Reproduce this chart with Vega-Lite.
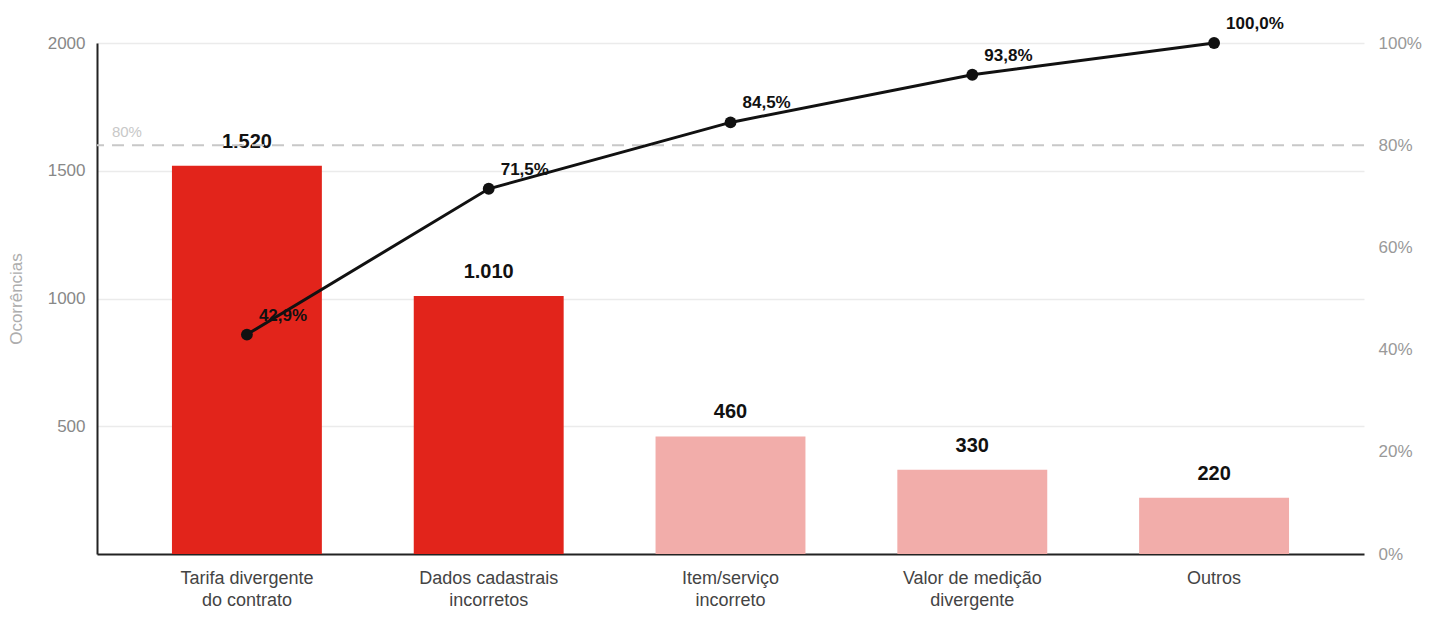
{
  "$schema": "https://vega.github.io/schema/vega-lite/v6.json",
  "width": 1267,
  "height": 511,
  "autosize": {"type": "none"},
  "padding": {"left": 97, "top": 43, "right": 68, "bottom": 66},
  "background": "white",
  "data": {
    "values": [
      {"categoria": "Tarifa divergente|do contrato", "ocorrencias": 1520, "acumulado": 0.4294},
      {"categoria": "Dados cadastrais|incorretos", "ocorrencias": 1010, "acumulado": 0.7147},
      {"categoria": "Item/serviço|incorreto", "ocorrencias": 460, "acumulado": 0.8446},
      {"categoria": "Valor de medição|divergente", "ocorrencias": 330, "acumulado": 0.9379},
      {"categoria": "Outros", "ocorrencias": 220, "acumulado": 1.0}
    ]
  },
  "layer": [
    {
      "layer": [
        {
          "mark": {"type": "bar"},
          "encoding": {
            "x": {
              "field": "categoria",
              "type": "nominal",
              "sort": null,
              "title": null,
              "scale": {"paddingInner": 0.38, "paddingOuter": 0.31},
              "axis": {
                "labelAngle": 0,
                "labelExpr": "split(datum.label, '|')",
                "labelColor": "#444",
                "labelFontSize": 18,
                "labelLineHeight": 22,
                "labelPadding": 15,
                "ticks": false,
                "domainColor": "#222",
                "domainWidth": 2,
                "grid": false
              }
            },
            "y": {
              "field": "ocorrencias",
              "type": "quantitative",
              "title": "Ocorrências",
              "scale": {"domain": [0, 2000], "nice": false},
              "axis": {
                "values": [500, 1000, 1500, 2000],
                "format": "d",
                "labelColor": "#888",
                "labelFontSize": 17,
                "labelPadding": 12,
                "ticks": false,
                "domainColor": "#222",
                "domainWidth": 2,
                "grid": true,
                "gridColor": "#ebebeb",
                "gridWidth": 1.5,
                "titleColor": "#adadad",
                "titleFontSize": 17,
                "titleFontWeight": "normal",
                "titlePadding": 22
              }
            },
            "color": {
              "condition": {"test": "datum.acumulado <= 0.8", "value": "#e2241b"},
              "value": "#f2adaa"
            }
          }
        },
        {
          "mark": {"type": "text", "fontSize": 20, "fontWeight": "bold", "color": "#111", "baseline": "alphabetic", "dy": -18},
          "encoding": {
            "x": {"field": "categoria", "type": "nominal", "sort": null, "title": null},
            "y": {"field": "ocorrencias", "type": "quantitative", "title": "Ocorrências"},
            "text": {"field": "ocorrencias", "type": "quantitative", "format": ",d"}
          }
        }
      ]
    },
    {
      "layer": [
        {
          "data": {"values": [{"meta": 0.8, "rotulo": "80%"}]},
          "mark": {"type": "rule", "color": "#c8c8c8", "strokeWidth": 2, "strokeDash": [12, 8]},
          "encoding": {
            "y": {"field": "meta", "type": "quantitative", "title": null}
          }
        },
        {
          "data": {"values": [{"meta": 0.8, "rotulo": "80%"}]},
          "mark": {"type": "text", "color": "#c8c8c8", "fontSize": 15, "align": "left", "baseline": "bottom", "dx": -135, "dy": -5},
          "encoding": {
            "x": {"datum": "Tarifa divergente|do contrato", "type": "nominal", "title": null},
            "y": {"field": "meta", "type": "quantitative", "title": null},
            "text": {"field": "rotulo"}
          }
        },
        {
          "mark": {"type": "line", "color": "#111", "strokeWidth": 3},
          "encoding": {
            "x": {"field": "categoria", "type": "nominal", "sort": null, "title": null},
            "y": {
              "field": "acumulado",
              "type": "quantitative",
              "title": null,
              "scale": {"domain": [0, 1], "nice": false},
              "axis": {
                "orient": "right",
                "values": [0, 0.2, 0.4, 0.6, 0.8, 1],
                "format": ".0%",
                "labelColor": "#999",
                "labelFontSize": 17,
                "labelPadding": 14,
                "ticks": false,
                "domain": false,
                "grid": false
              }
            }
          }
        },
        {
          "mark": {"type": "point", "filled": true, "color": "#111", "opacity": 1, "size": 140},
          "encoding": {
            "x": {"field": "categoria", "type": "nominal", "sort": null, "title": null},
            "y": {"field": "acumulado", "type": "quantitative", "title": null}
          }
        },
        {
          "mark": {"type": "text", "fontSize": 17, "fontWeight": "bold", "color": "#111", "align": "left", "baseline": "middle", "dx": 12, "dy": -19},
          "encoding": {
            "x": {"field": "categoria", "type": "nominal", "sort": null, "title": null},
            "y": {"field": "acumulado", "type": "quantitative", "title": null},
            "text": {"field": "acumulado", "type": "quantitative", "format": ".1%"}
          }
        }
      ]
    }
  ],
  "resolve": {"scale": {"y": "independent"}},
  "config": {
    "font": "Liberation Sans",
    "view": {"stroke": null},
    "locale": {
      "number": {"decimal": ",", "thousands": ".", "grouping": [3], "currency": ["R$", ""]}
    }
  }
}
